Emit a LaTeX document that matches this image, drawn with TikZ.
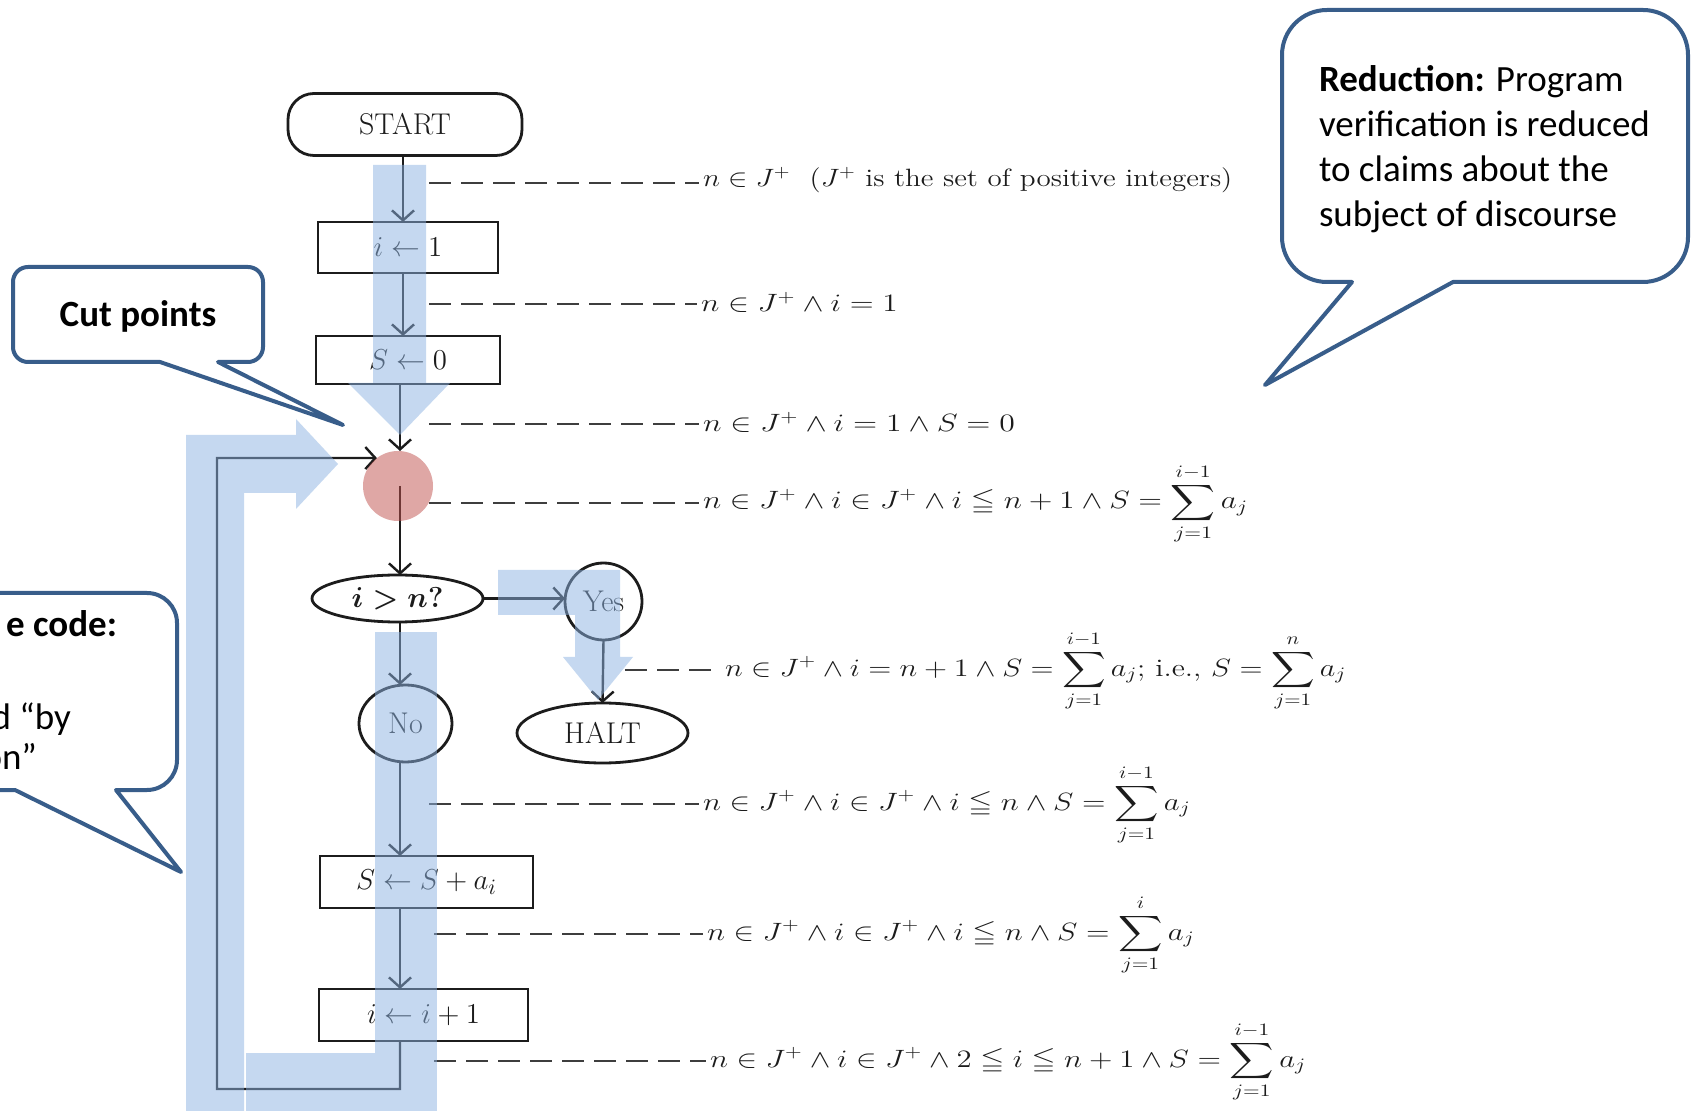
\documentclass[tikz,border=0pt]{standalone}
\usepackage{amsmath,amssymb}
\usepackage{graphicx}
\usepackage{fontspec}
\newfontfamily\calfont{Carlito}
\usetikzlibrary{arrows.meta,shapes.geometric}

\definecolor{calloutblue}{RGB}{56,93,138}
\definecolor{bandblue}{RGB}{141,179,226}
\definecolor{cutred}{RGB}{192,80,77}
\definecolor{ink}{RGB}{28,28,28}

\newcommand\flowfont{\fontsize{15}{18}\selectfont}
\newcommand\assertfont{\fontsize{14.4}{17}\selectfont}
\newcommand\notefont{\calfont\fontsize{18.5}{22.5}\selectfont}
% the assertions are set in a wide, short face
\newcommand\widened[2][1.08]{\scalebox{#1}[0.87]{#2}}
\newcommand\bigsum[2]{\displaystyle\sum_{#1}^{#2}}

\begin{document}
\begin{tikzpicture}[x=0.5pt,y=-0.5pt,
  every node/.style={inner sep=0pt, outer sep=0pt},
  flowbox/.style={draw=ink, line width=1.4pt, shape=rectangle, font=\flowfont, text=ink},
  flowoval/.style={draw=ink, line width=1.4pt, shape=ellipse, font=\flowfont, text=ink},
  flowline/.style={draw=ink, line width=1.2pt},
  flowarrow/.style={flowline, -{Straight Barb[length=5pt,width=11pt]}},
  assertline/.style={draw=ink!85, line width=0.8pt, dash pattern=on 11pt off 5pt, shorten >=2pt},
  assertion/.style={font=\assertfont, anchor=base west, text=ink},
  band/.style={fill=bandblue, fill opacity=0.5},
  callout/.style={draw=calloutblue, line width=2pt, fill=white, line join=round},
  note/.style={font=\notefont, text=black},
]
\useasboundingbox (0,0) rectangle (1691,1111);
\fill[white] (0,0) rectangle (1691,1111);

% flow columns
\coordinate (colA) at (403,0);
\coordinate (colB) at (400,0);

% ---------- flowchart ----------
\node[flowbox, rounded corners=13pt, minimum width=117pt, minimum height=31pt] (start) at (405,124.5) {START};
\node[flowbox, minimum width=90pt, minimum height=25.5pt] (ione) at (408,247.5) {$i \leftarrow 1$};
\node[flowbox, minimum width=92pt, minimum height=24pt] (szero) at (408,360) {$S \leftarrow 0$};
\node[shape=circle, minimum size=35pt] (cut) at (398,486) {};
\node[flowoval, minimum width=85.5pt, minimum height=23.5pt] (dec) at (397.5,598.5) {$\boldsymbol{i > n?}$};
\node[flowoval, minimum width=38.5pt, minimum height=38.5pt] (yes) at (603.5,601.5) {Yes};
\node[flowoval, minimum width=46.5pt, minimum height=38.5pt] (no) at (405.5,723.5) {No};
\node[flowoval, minimum width=85.5pt, minimum height=30pt] (halt) at (602.5,733) {HALT};
\node[flowbox, minimum width=106.5pt, minimum height=26pt] (sadd) at (426.5,882) {$S \leftarrow S + a_i$};
\node[flowbox, minimum width=104.5pt, minimum height=26pt] (iinc) at (423.5,1015) {$i \leftarrow i + 1$};

\coordinate (loopbl) at (217,1089);
\coordinate (looptl) at (217,458);

\draw[flowarrow] (start.south -| colA) -- (ione.north -| colA);
\draw[flowarrow] (ione.south -| colA) -- (szero.north -| colA);
\draw[flowarrow] (szero.south -| colB) -- (cut.north -| colB);
\draw[flowarrow] (iinc.south -| colB) |- (loopbl) -- (looptl) -- (cut.127);
\draw[flowarrow] (cut.center -| colB) -- (dec.north -| colB);
\draw[flowarrow] (dec.east) -- (dec.east -| yes.west);
\draw[flowarrow] (yes.south) -- (halt.north);
\draw[flowarrow] (dec.south -| colB) -- (no.north -| colB);
\draw[flowarrow] (no.south -| colB) -- (sadd.north -| colB);
\draw[flowarrow] (sadd.south -| colB) -- (iinc.north -| colB);

% ---------- assertions ----------
\coordinate (d1) at (429,183);
\coordinate (d2) at (429,304);
\coordinate (d3) at (429,424);
\coordinate (d4) at (429,503);
\coordinate (d5) at (625,670);
\coordinate (d6) at (429,804);
\coordinate (d7) at (434,934);
\coordinate (d8) at (434,1061);

\node[assertion] (a1) at (703,187) {\widened[1.01]{$n \in J^{+}$\ \ $(J^{+}$ is the set of positive integers$)$}};
\node[assertion] (a2) at (701,312) {\widened[1.09]{$n \in J^{+} \wedge i = 1$}};
\node[assertion] (a3) at (703,432) {\widened[1.10]{$n \in J^{+} \wedge i = 1 \wedge S = 0$}};
\node[assertion] (a4) at (703,509) {\widened[1.08]{$n \in J^{+} \wedge i \in J^{+} \wedge i \leqq n + 1 \wedge S = \bigsum{j=1}{i-1} a_j$}};
\node[assertion] (a5) at (725,676) {\widened[1.05]{$n \in J^{+} \wedge i = n + 1 \wedge S = \bigsum{j=1}{i-1} a_j$;\ i.e.,\ $S = \bigsum{j=1}{n} a_j$}};
\node[assertion] (a6) at (703,810) {\widened[1.07]{$n \in J^{+} \wedge i \in J^{+} \wedge i \leqq n \wedge S = \bigsum{j=1}{i-1} a_j$}};
\node[assertion] (a7) at (707,940) {\widened[1.07]{$n \in J^{+} \wedge i \in J^{+} \wedge i \leqq n \wedge S = \bigsum{j=1}{i} a_j$}};
\node[assertion] (a8) at (710,1067) {\widened[1.07]{$n \in J^{+} \wedge i \in J^{+} \wedge 2 \leqq i \leqq n + 1 \wedge S = \bigsum{j=1}{i-1} a_j$}};

\foreach \k in {1,...,8} {
  \draw[assertline] (d\k) -- (d\k -| a\k.west);
}

% ---------- cut point marker ----------
\fill[cutred, fill opacity=0.5] (cut.center) circle[radius=35];

% ---------- flow bands ----------
\fill[band] (373,165) -- (426,165) -- (426,383) -- (450,383) -- (400,435) -- (348,383) -- (373,383) -- cycle;
\fill[band] (498,570) -- (620,570) -- (620,657) -- (633,657) -- (598,700) -- (563,657) -- (575,657) -- (575,615) -- (498,615) -- cycle;
\fill[band] (186,1111) -- (186,435) -- (296,435) -- (296,419) -- (338,464) -- (296,509) -- (296,493) -- (244,493) -- (244,1111) -- cycle;
\fill[band] (245.5,1053) rectangle (375,1111);
\fill[band] (375,632) rectangle (437,1111);

% ---------- callouts ----------
\draw[callout] (218,362) -- (343,425) -- (160,362) -- (28,362) arc(90:180:15) -- (13,282) arc(180:270:15)
  -- (248,267) arc(270:360:15) -- (263,347) arc(0:90:15) -- cycle;
\node[note, font=\notefont\bfseries, anchor=base] (cuttxt) at (138,327) {Cut points};

\draw[callout] (1453,282) -- (1265,385) -- (1352,282) -- (1327,282) arc(90:180:45) -- (1282,55) arc(180:270:45)
  -- (1643,10) arc(270:360:45) -- (1688,237) arc(0:90:45) -- cycle;
\node[note, anchor=base west] (r1) at (1319,92) {\textbf{Reduction:} Program};
\node[note, anchor=base west] (r2) at (1319,137) {verification is reduced};
\node[note, anchor=base west] (r3) at (1319,182) {to claims about the};
\node[note, anchor=base west] (r4) at (1319,227) {subject of discourse};

\draw[callout] (116,790) -- (181,872) -- (15,790) -- (-170,790) arc(90:180:30) -- (-200,623) arc(180:270:30)
  -- (147,593) arc(270:360:30) -- (177,760) arc(0:90:30) -- cycle;
\node[note, font=\notefont\bfseries, anchor=base east] (l1) at (117,637) {e code:};
\node[note, anchor=base east] (l2) at (71,729) {d “by};
\node[note, anchor=base east] (l3) at (37,769) {on”};
\end{tikzpicture}
\end{document}
